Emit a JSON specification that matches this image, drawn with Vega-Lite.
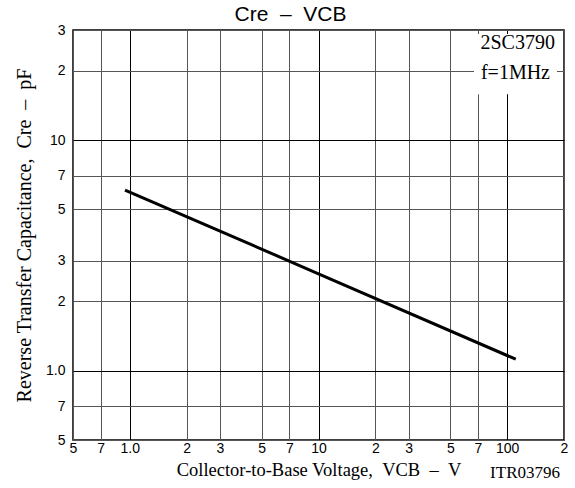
{
  "$schema": "https://vega.github.io/schema/vega-lite/v6.json",
  "width": 491,
  "height": 410,
  "autosize": {"type": "none"},
  "padding": {"left": 73, "top": 30, "right": 11, "bottom": 48},
  "background": "white",
  "title": {"text": "Cre\u00a0\u00a0–\u00a0\u00a0VCB", "font": "Liberation Sans", "fontSize": 21, "fontWeight": "normal", "color": "black", "dx": -28, "offset": -2},
  "config": {"view": {"stroke": "black", "strokeWidth": 1.5}},
  "datasets": {
    "curve": [
      {"x": 0.943, "y": 6.07},
      {"x": 10, "y": 2.63},
      {"x": 111, "y": 1.12}
    ],
    "box": [
      {"x": 66.7, "x2": 183.6, "y": 28.8, "y2": 15.8}
    ],
    "notes": [
      {"x": 179, "y": 26.3, "label": "2SC3790"},
      {"x": 168.6, "y": 19.5, "label": "f=1MHz"}
    ],
    "ref": [
      {"x": 200, "y": 0.5, "label": "ITR03796"}
    ]
  },
  "encoding": {
    "x": {
      "field": "x",
      "type": "quantitative",
      "scale": {"type": "log", "domain": [0.5, 200], "nice": false},
      "axis": {
        "title": "Collector-to-Base Voltage,\u00a0\u00a0VCB\u00a0\u00a0–\u00a0\u00a0V",
        "titleFont": "Liberation Serif",
        "titleFontSize": 18.5,
        "titleFontWeight": "normal",
        "titleColor": "black",
        "titlePadding": 5,
        "values": [0.5, 0.7, 1, 2, 3, 5, 7, 10, 20, 30, 50, 70, 100, 200],
        "labelExpr": "datum.value==1?'1.0':datum.value==10?'10':datum.value==100?'100':datum.value<1?format(datum.value*10,'.0f'):datum.value<10?format(datum.value,'.0f'):datum.value<100?format(datum.value/10,'.0f'):format(datum.value/100,'.0f')",
        "labelFont": "Liberation Sans",
        "labelFontSize": 14,
        "labelColor": "black",
        "labelPadding": 1,
        "labelFlush": false,
        "labelOverlap": false,
        "labelBound": false,
        "ticks": false,
        "domain": false,
        "grid": true,
        "gridColor": {"condition": {"test": "datum.value==1||datum.value==10||datum.value==100", "value": "black"}, "value": "#555555"},
        "gridWidth": 1,
        "gridOpacity": 1,
        "encode": {"labels": {"update": {"dy": {"signal": "datum.value==1||datum.value==10||datum.value==100 ? 9 : 0"}}}}
      }
    },
    "y": {
      "field": "y",
      "type": "quantitative",
      "scale": {"type": "log", "domain": [0.5, 30], "nice": false},
      "axis": {
        "title": "Reverse Transfer Capacitance,\u00a0\u00a0Cre\u00a0\u00a0–\u00a0\u00a0pF",
        "titleFont": "Liberation Serif",
        "titleFontSize": 20,
        "titleFontWeight": "normal",
        "titleColor": "black",
        "titlePadding": 11,
        "values": [0.5, 0.7, 1, 2, 3, 5, 7, 10, 20, 30],
        "labelExpr": "datum.value==1?'1.0':datum.value==10?'10':datum.value<1?format(datum.value*10,'.0f'):datum.value<10?format(datum.value,'.0f'):format(datum.value/10,'.0f')",
        "labelFont": "Liberation Sans",
        "labelFontSize": 14,
        "labelColor": "black",
        "labelPadding": 8,
        "labelOverlap": false,
        "labelBound": false,
        "labelFlush": false,
        "ticks": false,
        "domain": false,
        "grid": true,
        "gridColor": {"condition": {"test": "datum.value==1||datum.value==10", "value": "black"}, "value": "#555555"},
        "gridWidth": 1,
        "gridOpacity": 1
      }
    }
  },
  "layer": [
    {
      "data": {"name": "box"},
      "mark": {"type": "rect", "fill": "white", "stroke": null},
      "encoding": {
        "x2": {"field": "x2"},
        "y2": {"field": "y2"}
      }
    },
    {
      "data": {"name": "curve"},
      "mark": {"type": "line", "color": "black", "strokeWidth": 3, "strokeCap": "butt"},
      "encoding": {}
    },
    {
      "data": {"name": "notes"},
      "mark": {"type": "text", "align": "right", "baseline": "middle", "font": "Liberation Serif", "fontSize": 20, "color": "black"},
      "encoding": {"text": {"field": "label"}}
    },
    {
      "data": {"name": "ref"},
      "mark": {"type": "text", "align": "right", "baseline": "alphabetic", "font": "Liberation Serif", "fontSize": 17, "color": "black", "dx": -4, "dy": 38},
      "encoding": {"text": {"field": "label"}}
    }
  ]
}
